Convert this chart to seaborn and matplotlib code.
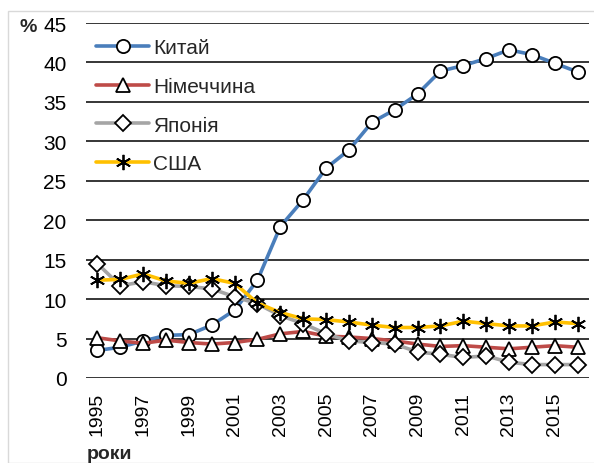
import numpy as np
import pandas as pd
import matplotlib
matplotlib.use('Agg')
import matplotlib.pyplot as plt
from matplotlib.patches import Rectangle
import seaborn as sns

years = list(range(1995, 2017))
china = [3.5, 3.9, 4.7, 5.4, 5.5, 6.7, 8.6, 12.4, 19.2, 22.6, 26.6, 28.9, 32.4,
         34.0, 36.0, 38.9, 39.6, 40.5, 41.6, 41.0, 39.9, 38.8]
germany = [5.1, 4.7, 4.4, 4.8, 4.5, 4.3, 4.5, 4.9, 5.6, 5.9, 5.3, 5.2, 5.0,
           4.7, 4.3, 4.0, 4.1, 3.9, 3.7, 3.9, 4.1, 3.9]
japan = [14.5, 11.7, 12.2, 11.7, 11.6, 11.3, 10.3, 9.4, 7.9, 6.9, 5.6, 4.7, 4.5,
         4.3, 3.3, 3.0, 2.6, 2.8, 2.0, 1.7, 1.7, 1.7]
usa = [12.4, 12.5, 13.2, 12.3, 12.0, 12.6, 12.0, 9.5, 8.3, 7.5, 7.4, 7.1, 6.7,
       6.4, 6.4, 6.6, 7.2, 6.9, 6.6, 6.6, 7.1, 6.9]

names = ['Китай', 'Німеччина', 'Японія', 'США']
series = [china, germany, japan, usa]
colors = ['#4A7EBB', '#BE4B48', '#A5A5A5', '#FFC000']
markers = ['o', '^', 'D', (6, 2, 0)]
msizes = [9.5, 10, 8, 11]
xlabels = [str(y) for y in years[::2]]

sns.set_theme(style='white')
plt.rcParams['font.family'] = ['Liberation Sans', 'DejaVu Sans']

W, H = 594, 464
fig = plt.figure(figsize=(W / 100, H / 100), dpi=100)
ax = fig.add_axes([86 / W, 1 - 379 / H, (589 - 86) / W, (379 - 24) / H])

# light frame around the chart
fig.patches.append(Rectangle((8 / W, 0), 1, 1 - 12 / H, transform=fig.transFigure,
                             fill=False, edgecolor='#D9D9D9', lw=1.0))

for name, vals, c, m, ms in zip(names, series, colors, markers, msizes):
    sns.lineplot(x=years, y=vals, ax=ax, color=c, lw=2.6, marker=m, markersize=ms,
                 markerfacecolor='white', markeredgecolor='black',
                 markeredgewidth=1.3, label=name)

ax.set_xlim(1994.5, 2016.5)
ax.set_ylim(0, 45)
ax.set_yticks(np.arange(0, 46, 5))
ax.set_xticks(years[::2])
ax.set_xticklabels(xlabels, rotation=90)
ax.tick_params(axis='y', length=0, pad=14, labelsize=15, colors='black')
ax.tick_params(axis='x', length=0, pad=10, labelsize=14, colors='black')
ax.grid(axis='y', color='black', lw=1.1)
ax.set_axisbelow(True)
for s in ax.spines.values():
    s.set_visible(False)
ax.set_xlabel('')
ax.set_ylabel('')

fig.text(19 / W, 1 - 28 / H, '%', fontsize=14, fontweight='bold', va='center', ha='left')
fig.text(87 / W, 1 - 455 / H, 'роки', fontsize=14, fontweight='bold', va='center', ha='left')

ax.legend(loc='upper left', bbox_to_anchor=(96 / W, 1 - 39 / H),
          bbox_transform=fig.transFigure, frameon=False, fontsize=15,
          borderpad=0, borderaxespad=0, handlelength=2.55, handletextpad=0.2,
          labelspacing=0.95)

fig.savefig('out.png', dpi=100)
